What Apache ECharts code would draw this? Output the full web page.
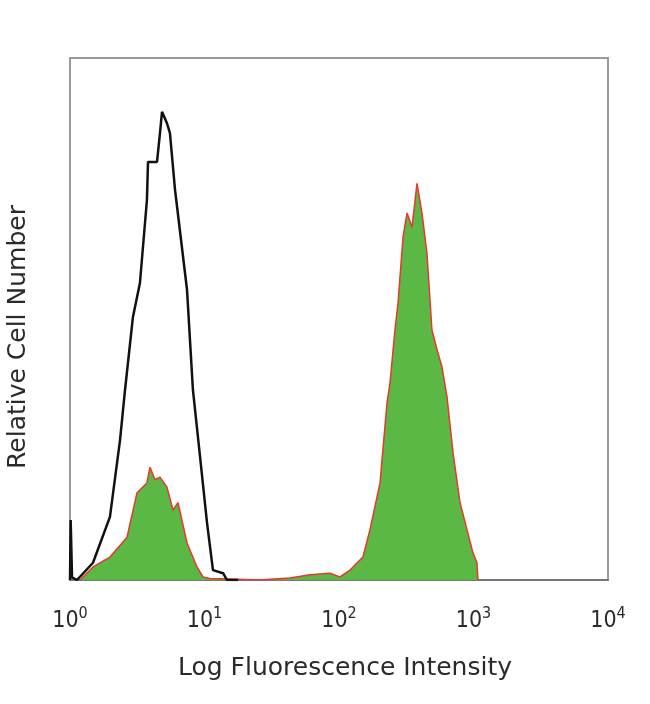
<!DOCTYPE html>
<html><head><meta charset="utf-8">
<script src="https://cdn.jsdelivr.net/npm/echarts@6/dist/echarts.min.js"></script>
<style>html,body{margin:0;padding:0;background:#fff}#c{width:650px;height:704px}</style>
</head><body><div id="c"></div>
<script>
// x values are log10(fluorescence intensity); y is relative cell number (0-100)
const xTicks = [0, 1, 2, 3, 4];
const controlX = [0, 0.005, 0.015, 0.052, 0.171, 0.297, 0.372, 0.409, 0.468, 0.520, 0.572, 0.580, 0.647, 0.669, 0.684, 0.721, 0.743, 0.781, 0.796, 0.870, 0.914, 0.967, 1.019, 1.063, 1.138, 1.167, 1.25];
const controlY = [0, 11.5, 0.5, 0, 3.3, 12.1, 26.8, 36.4, 50.4, 56.9, 72.8, 80.1, 80.1, 85.6, 89.7, 87.5, 85.6, 74.7, 71.5, 55.6, 36.4, 23.6, 10.9, 1.9, 1.3, 0, 0];
const stainedX = [0.074, 0.171, 0.297, 0.424, 0.498, 0.572, 0.595, 0.632, 0.669, 0.721, 0.766, 0.803, 0.870, 0.944, 0.989, 1.04, 1.19, 1.40, 1.636, 1.784, 1.933, 2.007, 2.082, 2.178, 2.230, 2.305, 2.357, 2.379, 2.416, 2.439, 2.476, 2.506, 2.543, 2.580, 2.617, 2.654, 2.691, 2.729, 2.766, 2.803, 2.848, 2.900, 2.952, 2.996, 3.026, 3.033];
const stainedY = [0, 2.5, 4.4, 8.2, 16.7, 18.6, 21.6, 19.2, 19.7, 17.8, 13.4, 14.8, 7.1, 2.5, 0.6, 0.3, 0.2, 0, 0.4, 1.0, 1.3, 0.6, 1.9, 4.4, 9.6, 18.6, 33.9, 37.7, 47.9, 53.1, 65.7, 70.3, 67.6, 76.0, 70.3, 62.6, 47.9, 44.1, 40.8, 35.1, 24.3, 14.8, 9.6, 5.2, 3.3, 0];

const zip = (xs, ys) => xs.map((x, i) => [x, ys[i]]);
const chart = echarts.init(document.getElementById('c'));
chart.setOption({
  animation: false,
  backgroundColor: '#fff',
  grid: { left: 70, right: 42, top: 58, bottom: 124, show: true, borderColor: '#9a9a9a', borderWidth: 2, outerBoundsMode: 'none', containLabel: false },
  xAxis: {
    type: 'value', min: 0, max: 4, interval: 1,
    name: 'Log Fluorescence Intensity', nameLocation: 'middle', nameGap: 76,
    nameTextStyle: { fontFamily: 'DejaVu Sans', fontSize: 25, color: '#2a2a2a', padding: [0, 0, 0, 12] },
    axisLine: { show: true, lineStyle: { color: '#777', width: 2 } },
    axisTick: { show: false },
    splitLine: { show: false },
    axisLabel: {
      margin: 26,
      formatter: v => '{a|10}{b|' + v + '}',
      rich: {
        a: { fontFamily: 'DejaVu Sans Condensed', fontSize: 23, color: '#2a2a2a' },
        b: { fontFamily: 'DejaVu Sans Condensed', fontSize: 16, color: '#2a2a2a', padding: [0, 0, 14, 0] }
      }
    }
  },
  yAxis: {
    type: 'value', min: 0, max: 100,
    name: 'Relative Cell Number', nameLocation: 'middle', nameGap: 39,
    nameTextStyle: { fontFamily: 'DejaVu Sans', fontSize: 25, color: '#2a2a2a', padding: [0, 36, 0, 0] },
    axisLine: { show: true, lineStyle: { color: '#9a9a9a', width: 2 } },
    axisTick: { show: false }, axisLabel: { show: false }, splitLine: { show: false }
  },
  series: [
    { type: 'line', data: zip(stainedX, stainedY), symbol: 'none',
      lineStyle: { color: '#e8372c', width: 1.5 },
      areaStyle: { color: '#5cb844', opacity: 1 }, z: 2 },
    { type: 'line', data: zip(controlX, controlY), symbol: 'none',
      lineStyle: { color: '#111', width: 2.5 }, z: 3 }
  ]
});
</script></body></html>
